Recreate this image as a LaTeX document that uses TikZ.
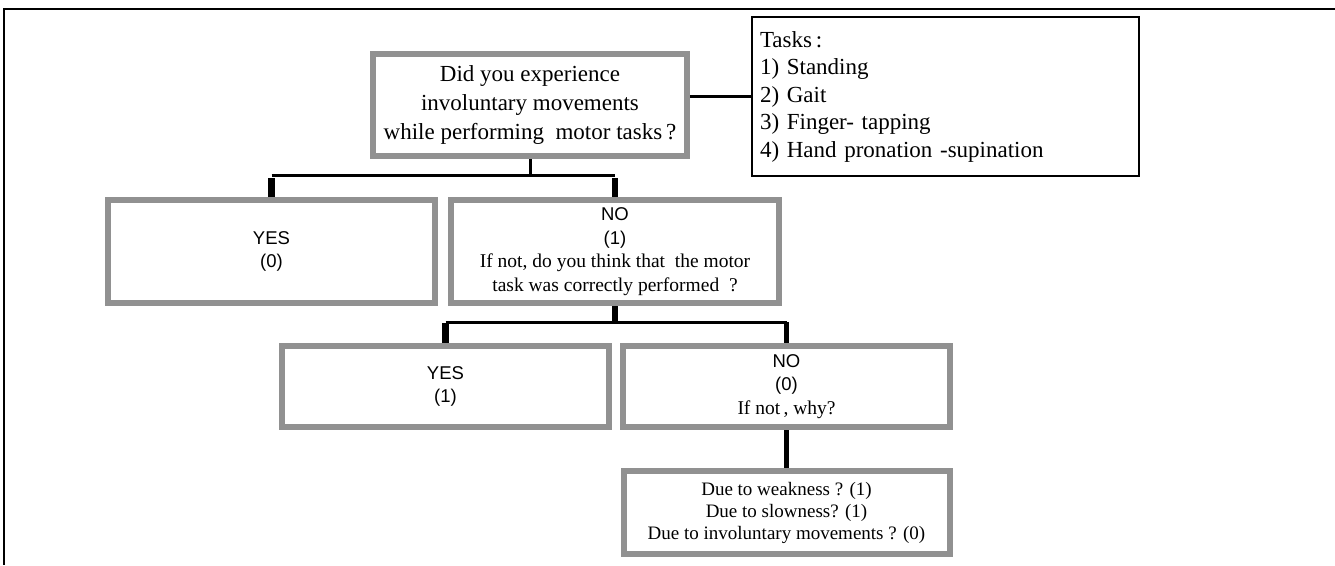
\documentclass[tikz,border=0pt]{standalone}
\usepackage{fontspec}
\setmainfont{Liberation Serif}
\setsansfont{Liberation Sans}
\usetikzlibrary{calc}
\definecolor{boxgray}{RGB}{145,145,145}
\newcommand{\qfont}{\rmfamily\fontsize{23}{29}\selectfont}
\newcommand{\tfont}{\rmfamily\fontsize{23}{27.5}\selectfont}
\newcommand{\snfont}{\sffamily\fontsize{18.5}{23.5}\selectfont}
\newcommand{\srfont}{\rmfamily\fontsize{19.5}{23.5}\selectfont}
\newcommand{\wfont}{\rmfamily\fontsize{19}{22}\selectfont}
\tikzset{
  gbox/.style={draw=boxgray, line width=6pt, fill=white, inner sep=0pt, align=center},
  tbox/.style={draw=black, line width=2pt, fill=white, inner ysep=0pt, inner xsep=8pt, align=left},
  hline/.style={draw=black, line width=3pt},
  stub/.style={draw=black, line width=6.5pt},
  frame/.style={draw=black, line width=1.5pt}
}
\begin{document}
\begin{tikzpicture}[x=1pt,y=-1pt]
\useasboundingbox (0,0) rectangle (1335,565);
% frame
\coordinate (ftl) at (4,9);
\coordinate (ftr) at (1335,9);
\coordinate (fbl) at (4,565);
\draw[frame] (ftr) -- (ftl) -- (fbl);
% nodes
\node[gbox, font=\qfont, minimum width=314pt, minimum height=102pt] (q) at (530,105)
  {Did you experience\\involuntary movements\\while performing\ \ motor tasks\,?};
\node[tbox, font=\tfont, text width=371pt, minimum height=159pt] (tasks) at (945.5,96.5)
  {Tasks\,:\\1) Standing\\2) Gait\\3) Finger- tapping\\4) Hand pronation -supination};
\node[gbox, font=\snfont, minimum width=327pt, minimum height=103pt] (yes0) at (271.5,251.5)
  {YES\\(0)};
\node[gbox, font=\snfont, minimum width=328pt, minimum height=103pt] (no1) at (615,251.5)
  {NO\\(1)\\{\srfont If not, do you think that\ \ the motor}\\{\srfont task was correctly performed\ \ ?}};
\node[gbox, font=\snfont, minimum width=327pt, minimum height=81pt] (yes1) at (445.5,386.5)
  {YES\\(1)};
\node[gbox, font=\snfont, minimum width=327pt, minimum height=81pt] (no0) at (786.5,386.5)
  {NO\\(0)\\{\srfont If not\,, why?}};
\node[gbox, font=\wfont, minimum width=326pt, minimum height=83pt] (why) at (786.5,512.5)
  {Due to weakness ? (1)\\Due to slowness? (1)\\Due to involuntary movements ? (0)};
% connectors
\draw[hline] (tasks.west -| q.east) -- (tasks.west);
\draw[hline] (q.south) -- ++(0,16) coordinate (j1);
\draw[hline] (yes0.north |- j1) -- (no1.north |- j1);
\draw[stub] ($(yes0.north)+(0,-19)$) -- (yes0.north);
\draw[stub] ($(no1.north)+(0,-19)$) -- (no1.north);
\draw[stub] (no1.south) -- ++(0,16) coordinate (j2);
\draw[hline] (yes1.north |- j2) -- (no0.north |- j2);
\draw[stub] ($(yes1.north)+(0,-20)$) -- (yes1.north);
\draw[line width=4.5pt] (no0.north |- j2) -- (no0.north);
\draw[line width=5pt] (no0.south) -- (why.north);
\end{tikzpicture}
\end{document}
